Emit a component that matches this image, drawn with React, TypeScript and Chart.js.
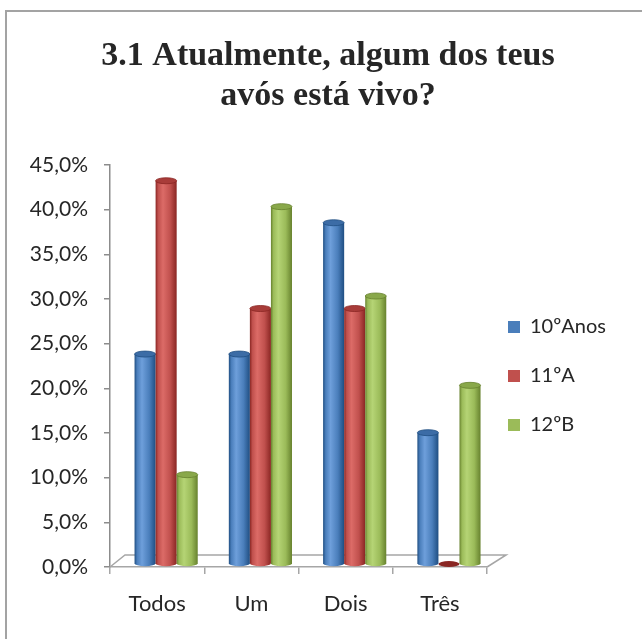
import React, { useEffect, useRef } from "react";
import { Chart, registerables } from "chart.js";

Chart.register(...registerables);

const categories = ["Todos", "Um", "Dois", "Três"];
const seriesNames = ["10ºAnos", "11ºA", "12ºB"];
const anos10 = [23.5, 23.5, 38.2, 14.7];
const a11 = [42.9, 28.6, 28.6, 0];
const b12 = [10, 40, 30, 20];
const titleLines = ["3.1 Atualmente, algum dos teus", "avós está vivo?"];
const yMin = 0;
const yMax = 45;
const yStep = 5;

const baseColors = ["#4a7ebb", "#c0504d", "#9bbb59"];
const darkColors = ["#1f4e82", "#8a2623", "#67822e"];
const lightColors = ["#6e9fdb", "#dc6b67", "#b5d475"];
const topColors = ["#3c6ca6", "#a83c39", "#89a84a"];

const DX = 9;
const DY = -3;
const RY = 3;

const framePlugin = {
  id: "frame",
  beforeDraw(chart: any) {
    const { ctx, width, height } = chart;
    ctx.save();
    ctx.fillStyle = "#ffffff";
    ctx.fillRect(0, 0, width, height);
    ctx.strokeStyle = "#a3a3a3";
    ctx.lineWidth = 2;
    ctx.strokeRect(6, 11, width + 20, height + 20);
    ctx.restore();
  },
};

const shiftPlugin = {
  id: "shiftBoxes",
  afterLayout(chart: any) {
    const lg = chart.legend;
    if (lg) {
      const dx = 479 - lg.left;
      lg.left += dx;
      lg.right += dx;
      const ca = chart.chartArea;
      const h = ca.bottom - ca.top;
      lg.top = ca.top + 10;
      lg.bottom = lg.top + h;
      lg.height = h;
    }
    const tb = chart.titleBlock;
    if (tb) {
      const cx = (tb.left + tb.right) / 2;
      const d = 328 - cx;
      tb.left += d;
      tb.right += d;
    }
  },
};

const cylinderPlugin = {
  id: "cylinder",
  beforeDatasetsDraw(chart: any) {
    const { ctx, chartArea } = chart;
    const { left, right, bottom } = chartArea;
    ctx.save();
    ctx.strokeStyle = "#a6a6a6";
    ctx.lineWidth = 1.5;
    ctx.beginPath();
    ctx.moveTo(left, bottom);
    ctx.lineTo(left + 15, bottom - 12);
    ctx.lineTo(right + 19, bottom - 12);
    ctx.lineTo(right, bottom);
    ctx.stroke();
    ctx.restore();
  },
  beforeDatasetDraw() {
    return false;
  },
  afterDatasetsDraw(chart: any) {
    const { ctx } = chart;
    chart.data.datasets.forEach((_ds: any, di: number) => {
      const meta = chart.getDatasetMeta(di);
      if (meta.hidden) return;
      meta.data.forEach((el: any) => {
        const w = el.width;
        const cx = el.x + DX;
        const x0 = cx - w / 2;
        const x1 = cx + w / 2;
        const top = el.y + DY;
        const base = el.base + DY;
        const rx = w / 2;
        ctx.save();
        if (base - top > 0.5) {
          const g = ctx.createLinearGradient(x0, 0, x1, 0);
          g.addColorStop(0, darkColors[di]);
          g.addColorStop(0.12, baseColors[di]);
          g.addColorStop(0.35, lightColors[di]);
          g.addColorStop(0.7, baseColors[di]);
          g.addColorStop(1, darkColors[di]);
          ctx.fillStyle = g;
          ctx.beginPath();
          ctx.moveTo(x0, top);
          ctx.lineTo(x0, base);
          ctx.ellipse(cx, base, rx, RY, 0, Math.PI, 0, true);
          ctx.lineTo(x1, top);
          ctx.closePath();
          ctx.fill();
          ctx.beginPath();
          ctx.ellipse(cx, top, rx, RY, 0, 0, Math.PI * 2);
          ctx.fillStyle = topColors[di];
          ctx.fill();
          ctx.strokeStyle = darkColors[di];
          ctx.lineWidth = 0.8;
          ctx.stroke();
        } else {
          ctx.beginPath();
          ctx.ellipse(cx, base, rx, RY, 0, 0, Math.PI * 2);
          ctx.fillStyle = darkColors[di];
          ctx.fill();
        }
        ctx.restore();
      });
    });
  },
};

export default function App() {
  const ref = useRef<HTMLCanvasElement | null>(null);

  useEffect(() => {
    if (!ref.current) return;
    const chart = new Chart(ref.current, {
      type: "bar",
      data: {
        labels: categories,
        datasets: [
          { label: seriesNames[0], data: anos10, backgroundColor: baseColors[0] },
          { label: seriesNames[1], data: a11, backgroundColor: baseColors[1] },
          { label: seriesNames[2], data: b12, backgroundColor: baseColors[2] },
        ],
      },
      options: {
        responsive: false,
        animation: false,
        devicePixelRatio: 1,
        layout: { padding: { left: 0, right: 18, top: 0, bottom: 0 } },
        datasets: {
          bar: { categoryPercentage: 0.67, barPercentage: 1.0 },
        },
        plugins: {
          title: {
            display: true,
            text: titleLines,
            color: "#262626",
            font: { family: "Liberation Serif", size: 34, weight: "bold", lineHeight: "40px" },
            padding: { top: 36, bottom: 49 },
          },
          legend: {
            display: true,
            position: "right",
            labels: {
              boxWidth: 12,
              boxHeight: 12,
              padding: 29,
              color: "#262626",
              font: { family: "Lato", size: 20 },
            },
          },
          tooltip: { enabled: false },
        },
        scales: {
          x: {
            grid: {
              display: true,
              drawOnChartArea: false,
              tickLength: 7,
              color: "#a6a6a6",
              lineWidth: 1.5,
            },
            border: { display: true, color: "#a6a6a6", width: 1.5 },
            ticks: { color: "#262626", font: { family: "Lato", size: 22 }, padding: 17 },
            afterFit: (s: any) => {
              s.height = 72;
            },
          },
          y: {
            min: yMin,
            max: yMax,
            grid: {
              display: true,
              drawOnChartArea: false,
              tickLength: 6,
              color: "#8c8c8c",
              lineWidth: 1.5,
            },
            border: { display: true, color: "#8c8c8c", width: 1.5 },
            ticks: {
              stepSize: yStep,
              color: "#262626",
              font: { family: "Lato", size: 21 },
              padding: 16,
              callback: (v: any) => Number(v).toFixed(1).replace(".", ",") + "%",
            },
            afterFit: (s: any) => {
              s.width = 110;
            },
          },
        },
      },
      plugins: [framePlugin, shiftPlugin, cylinderPlugin],
    });
    return () => chart.destroy();
  }, []);

  return (
    <div style={{ position: "absolute", left: 0, top: 0, width: 642, height: 639 }}>
      <canvas ref={ref} width={642} height={639} style={{ display: "block" }} />
    </div>
  );
}
